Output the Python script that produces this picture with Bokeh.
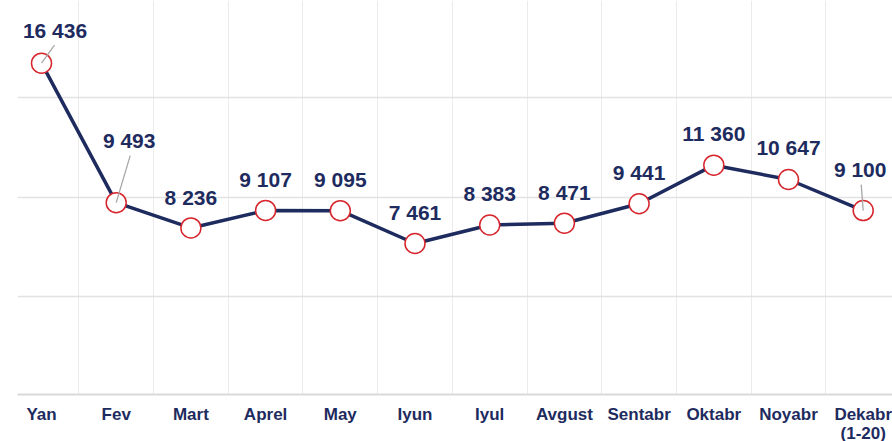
from bokeh.plotting import figure
from bokeh.models import ColumnDataSource, FixedTicker, Grid, Range1d, LinearAxis
from bokeh.core.properties import value
from bokeh.embed import file_html
from bokeh.resources import INLINE

# ---- data ----
months = ["Yan", "Fev", "Mart", "Aprel", "May", "Iyun", "Iyul", "Avgust",
          "Sentabr", "Oktabr", "Noyabr", "Dekabr"]
month_note = {11: "(1-20)"}
counts = [16436, 9493, 8236, 9107, 9095, 7461, 8383, 8471, 9441, 11360, 10647, 9100]
count_labels = [f"{v:,}".replace(",", " ") for v in counts]

# label placement (screen px offsets from point)
label_dx = [13.5, 13, 0, 0, 0, 0, 0, 0, 0, 0, 0, -3]
label_dy = [-33, -62, -30, -31, -31, -31, -31, -31, -31, -32, -32, -41]
# leader lines for displaced labels (screen px end offsets)
leader_idx = [0, 1, 11]
leader_dx = [13, 14, -2]
leader_dy = [-18, -47, -26]

# ---- layout ----
W, H = 892, 446
BL, BB = 17, 52
step_px = 74.7
first_px = 24.0
frame_w = W - BL
frame_h = H - BB
x_start = -first_px / step_px
x_end = x_start + frame_w / step_px
px_y = 0.02009
y_start = -1.1 / px_y
y_end = y_start + frame_h / px_y
px_x = step_px

NAVY = "#1e2b5e"
RED = "#d7262d"

xs = list(range(len(months)))

p = figure(width=W, height=H, output_backend="svg", toolbar_location=None,
           x_range=Range1d(x_start, x_end), y_range=Range1d(y_start, y_end),
           y_axis_location=None, min_border_left=BL, min_border_bottom=BB,
           min_border_top=0, min_border_right=0)
p.outline_line_color = None
p.background_fill_color = "white"
p.border_fill_color = "white"
p.center = [c for c in p.center if not isinstance(c, Grid)]

vgrid = Grid(dimension=0, ticker=FixedTicker(ticks=[i + 0.5 for i in range(len(months) - 1)]),
             grid_line_color="#ebebeb", grid_line_width=1)
hgrid = Grid(dimension=1, ticker=FixedTicker(ticks=[4823, 9776, 14714]),
             grid_line_color="#e2e2e2", grid_line_width=1.5)
p.add_layout(vgrid)
p.add_layout(hgrid)


def style_axis(ax, standoff):
    ax.major_tick_line_color = None
    ax.minor_tick_line_color = None
    ax.major_label_standoff = standoff
    ax.major_label_text_font = "Liberation Sans"
    ax.major_label_text_font_style = "bold"
    ax.major_label_text_font_size = "17px"
    ax.major_label_text_color = NAVY
    ax.major_tick_out = 0
    ax.major_tick_in = 0


ax = p.xaxis[0]
ax.ticker = FixedTicker(ticks=xs)
ax.major_label_overrides = {i: m for i, m in enumerate(months)}
ax.axis_line_color = "#d9d9d9"
ax.axis_line_width = 2
style_axis(ax, 10)

ax2 = LinearAxis(ticker=FixedTicker(ticks=list(month_note.keys())),
                 major_label_overrides=month_note, axis_line_color=None)
style_axis(ax2, -3)
p.add_layout(ax2, "below")

src = ColumnDataSource(dict(x=xs, y=counts, lab=count_labels, dx=label_dx, dy=label_dy))

p.line("x", "y", source=src, line_color=NAVY, line_width=3.5)
p.scatter("x", "y", source=src, size=20, fill_color="white", line_color=RED, line_width=1.5)

lsrc = ColumnDataSource(dict(
    x0=[xs[i] for i in leader_idx],
    y0=[counts[i] for i in leader_idx],
    x1=[xs[i] + dx / px_x for i, dx in zip(leader_idx, leader_dx)],
    y1=[counts[i] - dy / px_y for i, dy in zip(leader_idx, leader_dy)],
))
p.segment("x0", "y0", "x1", "y1", source=lsrc, line_color="#a8a8a8", line_width=1.3)

p.text("x", "y", text="lab", source=src, x_offset="dx", y_offset="dy",
       text_align="center", text_baseline="middle",
       text_font=value("Liberation Sans"), text_font_style="bold",
       text_font_size="21px", text_color=NAVY)

open("out.html", "w").write(file_html(p, INLINE))
